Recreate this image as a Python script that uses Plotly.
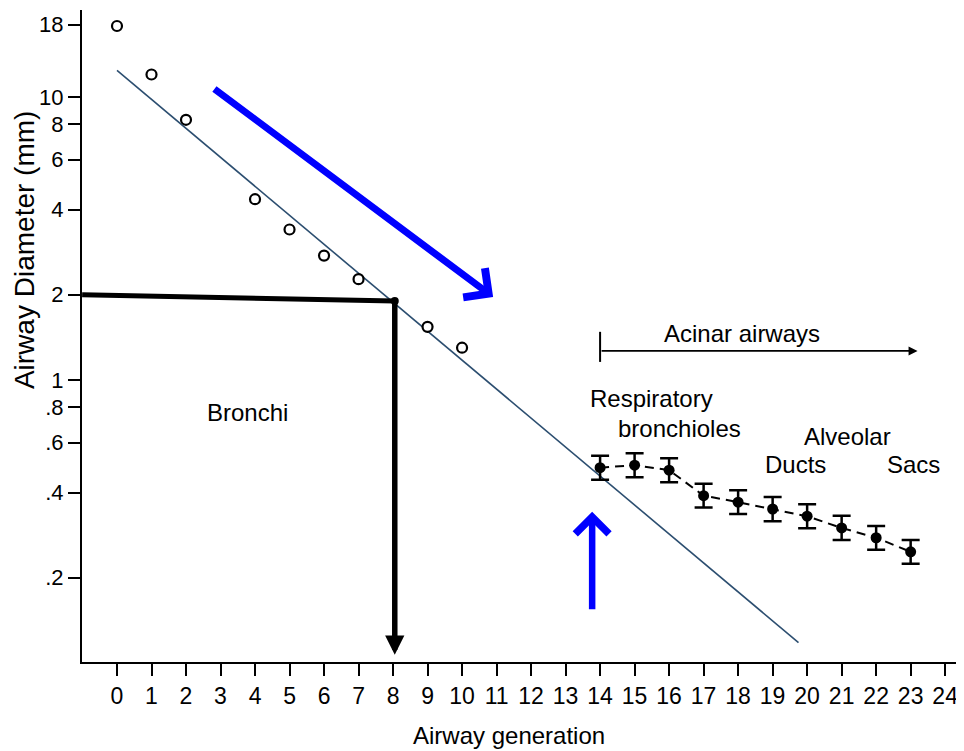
import math
import plotly.graph_objects as go

# ---- data ----
gen_bronchi = [0, 1, 2, 4, 5, 6, 7, 9, 10]
diam_bronchi = [17.8, 12.0, 8.3, 4.35, 3.4, 2.75, 2.27, 1.54, 1.30]

gen_acinar = [14, 15, 16, 17, 18, 19, 20, 21, 22, 23]
diam_acinar = [0.49, 0.50, 0.48, 0.39, 0.37, 0.35, 0.33, 0.30, 0.277, 0.247]
err_plus = [0.050, 0.051, 0.049, 0.040, 0.038, 0.036, 0.034, 0.031, 0.028, 0.025]
err_minus = [0.046, 0.047, 0.045, 0.036, 0.034, 0.033, 0.031, 0.028, 0.026, 0.023]

fit_gen = [0, 19.75]
fit_diam = [12.4, 0.118]

guide_gen = [-1.01, 8.05]
guide_diam = [2.0, 1.9]
guide_bottom = 0.107

acinar_bracket_gen = [14, 23.2]
acinar_bracket_diam = 1.266

y_tickvals = [0.1, 0.2, 0.4, 0.6, 0.8, 1, 2, 4, 6, 8, 10, 18]
y_ticktext = ["0", ".2", ".4", ".6", ".8", "1", "2", "4", "6", "8", "10", "18"]
x_tickvals = list(range(0, 25))

FONT = "Liberation Sans"
L = math.log10

fig = go.Figure()

# fitted line
fig.add_trace(go.Scatter(x=fit_gen, y=fit_diam, mode="lines",
                         line=dict(color="#2c4e70", width=1.6), hoverinfo="skip"))

# reading guide (horizontal)
fig.add_trace(go.Scatter(x=guide_gen, y=guide_diam, mode="lines",
                         line=dict(color="black", width=5), hoverinfo="skip"))

# bronchi points
fig.add_trace(go.Scatter(x=gen_bronchi, y=diam_bronchi, mode="markers",
                         marker=dict(symbol="circle", size=10, color="white",
                                     line=dict(color="black", width=2.2))))

# junction dot
fig.add_trace(go.Scatter(x=[guide_gen[1]], y=[guide_diam[1]], mode="markers",
                         marker=dict(size=8, color="black")))

# acinar points
fig.add_trace(go.Scatter(x=gen_acinar, y=diam_acinar, mode="lines+markers",
                         line=dict(color="black", width=2, dash="9px,6px"),
                         marker=dict(size=11, color="black"),
                         error_y=dict(type="data", array=err_plus, arrayminus=err_minus,
                                      color="black", thickness=2.5, width=9)))

ann = []
# vertical guide arrow
ann.append(dict(x=guide_gen[1], y=L(guide_bottom), ax=guide_gen[1], ay=L(guide_diam[1]),
                xref="x", yref="y", axref="x", ayref="y", showarrow=True,
                arrowhead=2, arrowsize=0.7, arrowwidth=5.5, arrowcolor="black", text=""))
# blue diagonal arrow
ann.append(dict(x=10.9, y=0.293, ax=2.78, ay=1.032,
                xref="x", yref="y", axref="x", ayref="y", showarrow=True,
                arrowhead=4, arrowsize=1.0, arrowwidth=7, arrowcolor="#0000ff", text=""))
# blue vertical arrow
ann.append(dict(x=13.77, y=-0.466, ax=13.77, ay=-0.815,
                xref="x", yref="y", axref="x", ayref="y", showarrow=True,
                arrowhead=4, arrowsize=1.0, arrowwidth=6.5, arrowcolor="#0000ff", text=""))
# acinar bracket arrow
ann.append(dict(x=acinar_bracket_gen[1], y=L(acinar_bracket_diam),
                ax=acinar_bracket_gen[0], ay=L(acinar_bracket_diam),
                xref="x", yref="y", axref="x", ayref="y", showarrow=True,
                arrowhead=2, arrowsize=1.0, arrowwidth=1.8, arrowcolor="black", text=""))

texts = [
    ("Acinar airways", 18.1, 0.1625),
    ("Bronchi", 3.77, -0.1166),
    ("Respiratory", 15.5, -0.067),
    ("bronchioles", 16.3, -0.17),
    ("Alveolar", 21.16, -0.20),
    ("Ducts", 19.65, -0.30),
    ("Sacs", 23.07, -0.30),
]
for t, x, y in texts:
    ann.append(dict(x=x, y=y, xref="x", yref="y", text=t, showarrow=False,
                    xanchor="center", yanchor="middle",
                    font=dict(family=FONT, size=24, color="black")))

ann.append(dict(x=-0.066, y=0.459, xref="paper", yref="y", text="Airway Diameter (mm)",
                textangle=-90, showarrow=False, xanchor="center", yanchor="middle",
                font=dict(family="Liberation Sans Narrow, Liberation Sans", size=28,
                          color="black")))
ann.append(dict(x=0.486, y=-0.112, xref="paper", yref="paper", text="Airway generation",
                showarrow=False, xanchor="center", yanchor="middle",
                font=dict(family=FONT, size=24, color="black")))

fig.update_layout(
    annotations=ann,
    shapes=[dict(type="line", xref="x", yref="y", x0=14, x1=14, y0=1.158, y1=1.479,
                 line=dict(color="black", width=2))],
    width=956, height=743,
    margin=dict(l=74, r=4, t=2, b=89),
    plot_bgcolor="white", paper_bgcolor="white",
    showlegend=False,
    font=dict(family=FONT, size=22, color="black"),
)
fig.update_xaxes(range=[-1.014, 24.43], tickvals=x_tickvals, ticks="outside",
                 ticklen=12, tickwidth=2, tickcolor="black",
                 showline=True, linecolor="black", linewidth=2, showgrid=False,
                 zeroline=False, automargin=False,
                 tickfont=dict(family=FONT, size=23))
fig.update_yaxes(type="log", range=[-0.9965, 1.307], tickvals=y_tickvals,
                 ticktext=y_ticktext, ticks="outside", ticklen=12, tickwidth=2,
                 tickcolor="black", showline=True, linecolor="black", linewidth=2,
                 showgrid=False, zeroline=False, automargin=False,
                 tickfont=dict(family=FONT, size=22))

fig.write_html("out.html")
